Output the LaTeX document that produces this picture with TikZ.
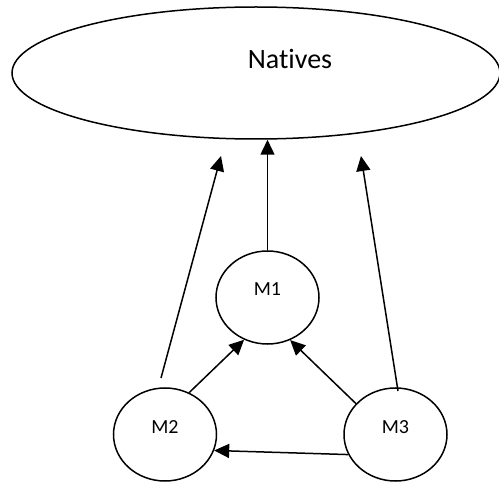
\documentclass[tikz,border=0pt]{standalone}
\usepackage{fontspec}
\setmainfont{Carlito}[Ligatures=NoCommon]
\usetikzlibrary{shapes.geometric,arrows.meta}
\tikzset{
	bubble/.style={draw, ellipse, line width=1.5pt, minimum width=103pt, minimum height=93pt, inner sep=0pt},
	tag/.style={font=\fontsize{20}{24}\selectfont},
	link/.style={line width=1.5pt, -{Triangle[length=15pt,width=14pt]}}
}
\begin{document}
\begin{tikzpicture}[x=1pt,y=-1pt]
	\useasboundingbox (0,0) rectangle (499,484);
	\node[draw, ellipse, line width=1.5pt, minimum width=488pt, minimum height=132pt] (nat) at (256,73) {};
	\node[font=\fontsize{28}{34}\selectfont] (natlbl) at (290,59) {Natives};
	\node[bubble, label={[tag, yshift=8pt]center:M1}] (m1) at (267.5,297.5) {};
	\node[bubble, label={[tag, yshift=7pt]center:M2}] (m2) at (165,434.5) {};
	\node[bubble, label={[tag, yshift=7pt]center:M3}] (m3) at (395.5,434.5) {};
	\coordinate (ls) at (161,378);
	\coordinate (lt) at (221,156);
	\coordinate (rs) at (398,391);
	\coordinate (rt) at (361,156);
	\draw[link] (m1.north) -- (m1.north |- nat.south);
	\draw[link] (ls) -- (lt);
	\draw[link] (rs) -- (rt);
	\draw[link] (m2.60) -- (m1.241);
	\draw[link] (m3.142) -- (m1.298);
	\draw[link] (m3.203) -- (m2.342);
\end{tikzpicture}
\end{document}
